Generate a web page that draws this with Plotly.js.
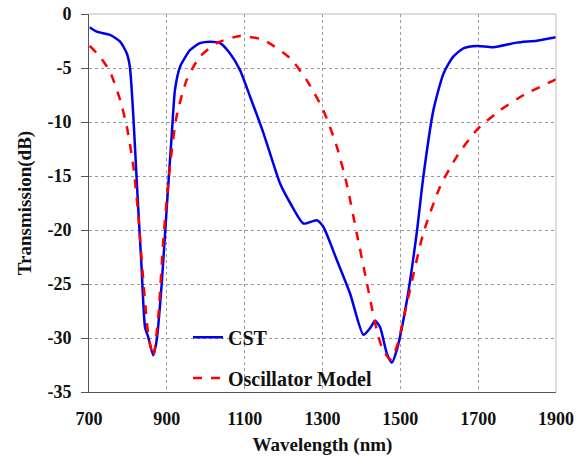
<!DOCTYPE html>
<html>
<head>
<meta charset="utf-8">
<script src="https://cdn.plot.ly/plotly-3.0.1.min.js"></script>
<style>html,body{margin:0;padding:0;background:#fff;}#chart{width:576px;height:460px;}</style>
</head>
<body>
<div id="chart"></div>
<script>
// CST simulation
const cstWavelength = [702,720,754,780,797,805,814,823,835,844,852,865,874,887,900,913,921,934,960,985,1011,1037,1062,1088,1114,1148,1191,1217,1251,1285,1302,1337,1371,1405,1422,1435,1448,1465,1478,1491,1517,1542,1559,1585,1611,1636,1662,1697,1739,1799,1851,1900];
const cstTransmission = [-1.23,-1.64,-1.94,-2.56,-3.64,-4.88,-9.5,-15.7,-23.4,-29.0,-29.9,-31.6,-30.2,-24.9,-17.8,-11.0,-7.0,-4.88,-3.33,-2.7,-2.56,-2.7,-3.64,-5.2,-7.66,-11.0,-15.7,-17.5,-19.4,-19.1,-19.7,-22.8,-25.9,-29.7,-29.1,-28.4,-29.0,-31.4,-32.3,-31.1,-26.5,-20.3,-15.1,-8.9,-5.5,-3.95,-3.18,-2.96,-3.08,-2.65,-2.47,-2.16];
// Oscillator model
const oscWavelength = [702,728,754,780,797,814,827,840,852,865,878,891,908,925,951,985,1028,1088,1148,1217,1259,1302,1337,1362,1388,1414,1435,1452,1474,1491,1517,1559,1602,1645,1697,1757,1817,1900];
const oscTransmission = [-2.96,-3.95,-5.34,-7.96,-10.4,-14.1,-18.8,-24.9,-29.6,-31.7,-28.0,-20.9,-14.1,-9.5,-6.1,-3.95,-2.7,-2.04,-2.4,-4.1,-6.1,-8.9,-12.3,-15.7,-20.3,-24.9,-28.6,-30.8,-32.0,-30.8,-26.8,-20.3,-16.0,-13.2,-10.7,-8.9,-7.5,-6.05];
const xTicks = [700,900,1100,1300,1500,1700,1900];
const yTicks = [0,-5,-10,-15,-20,-25,-30,-35];

const fam = '"Liberation Serif", "Times New Roman", serif';
const data = [
  {x: cstWavelength, y: cstTransmission, type: 'scatter', mode: 'lines', name: '<b>CST</b>',
   line: {color: '#0000ee', width: 2.5, shape: 'spline', smoothing: 0.6}, legend: 'legend'},
  {x: oscWavelength, y: oscTransmission, type: 'scatter', mode: 'lines', name: '<b>Oscillator Model</b>',
   line: {color: '#ff0000', width: 2.5, dash: 'dash', shape: 'spline', smoothing: 0.6}, legend: 'legend2'}
];
const layout = {
  width: 576, height: 460,
  margin: {l: 89, r: 20, t: 14, b: 68},
  paper_bgcolor: '#fff', plot_bgcolor: '#fff',
  font: {family: fam, size: 18, color: '#111'},
  showlegend: true,
  legend: {x: 0.212, y: 0.145, xanchor: 'left', yanchor: 'middle', bgcolor: 'rgba(0,0,0,0)', font: {family: fam, size: 20, color: '#111'}},
  legend2: {x: 0.212, y: 0.037, xanchor: 'left', yanchor: 'middle', bgcolor: 'rgba(0,0,0,0)', font: {family: fam, size: 20, color: '#111'}},
  xaxis: {
    range: [700, 1900], tickvals: xTicks, ticktext: xTicks.map(v => '<b>' + v + '</b>'),
    tickfont: {family: fam, size: 18, color: '#111'},
    showgrid: true, gridcolor: '#999', griddash: 'dot', gridwidth: 1,
    showline: true, linecolor: '#555', linewidth: 1, zeroline: false,
    ticks: '', ticklabelstandoff: 10,
    title: {text: '<b>Wavelength (nm)</b>', font: {family: fam, size: 19, color: '#111'}, standoff: 10}
  },
  yaxis: {
    range: [-35, 0], tickvals: yTicks, ticktext: yTicks.map(v => '<b>' + v + '</b>'),
    tickfont: {family: fam, size: 18, color: '#111'},
    showgrid: true, gridcolor: '#999', griddash: 'dot', gridwidth: 1,
    showline: true, linecolor: '#555', linewidth: 1, zeroline: false,
    ticks: 'outside', ticklen: 7, tickcolor: '#555', ticklabelstandoff: 6,
    title: {text: '<b>Transmission(dB)</b>', font: {family: fam, size: 19, color: '#111'}, standoff: 10}
  },
  shapes: [
    {type: 'line', xref: 'paper', yref: 'paper', x0: 0, x1: 1, y0: 1, y1: 1, line: {color: '#bbb', width: 1}},
    {type: 'line', xref: 'paper', yref: 'paper', x0: 1, x1: 1, y0: 0, y1: 1, line: {color: '#bbb', width: 1}}
  ]
};
Plotly.newPlot('chart', data, layout, {displayModeBar: false, staticPlot: true});
</script>
</body>
</html>
